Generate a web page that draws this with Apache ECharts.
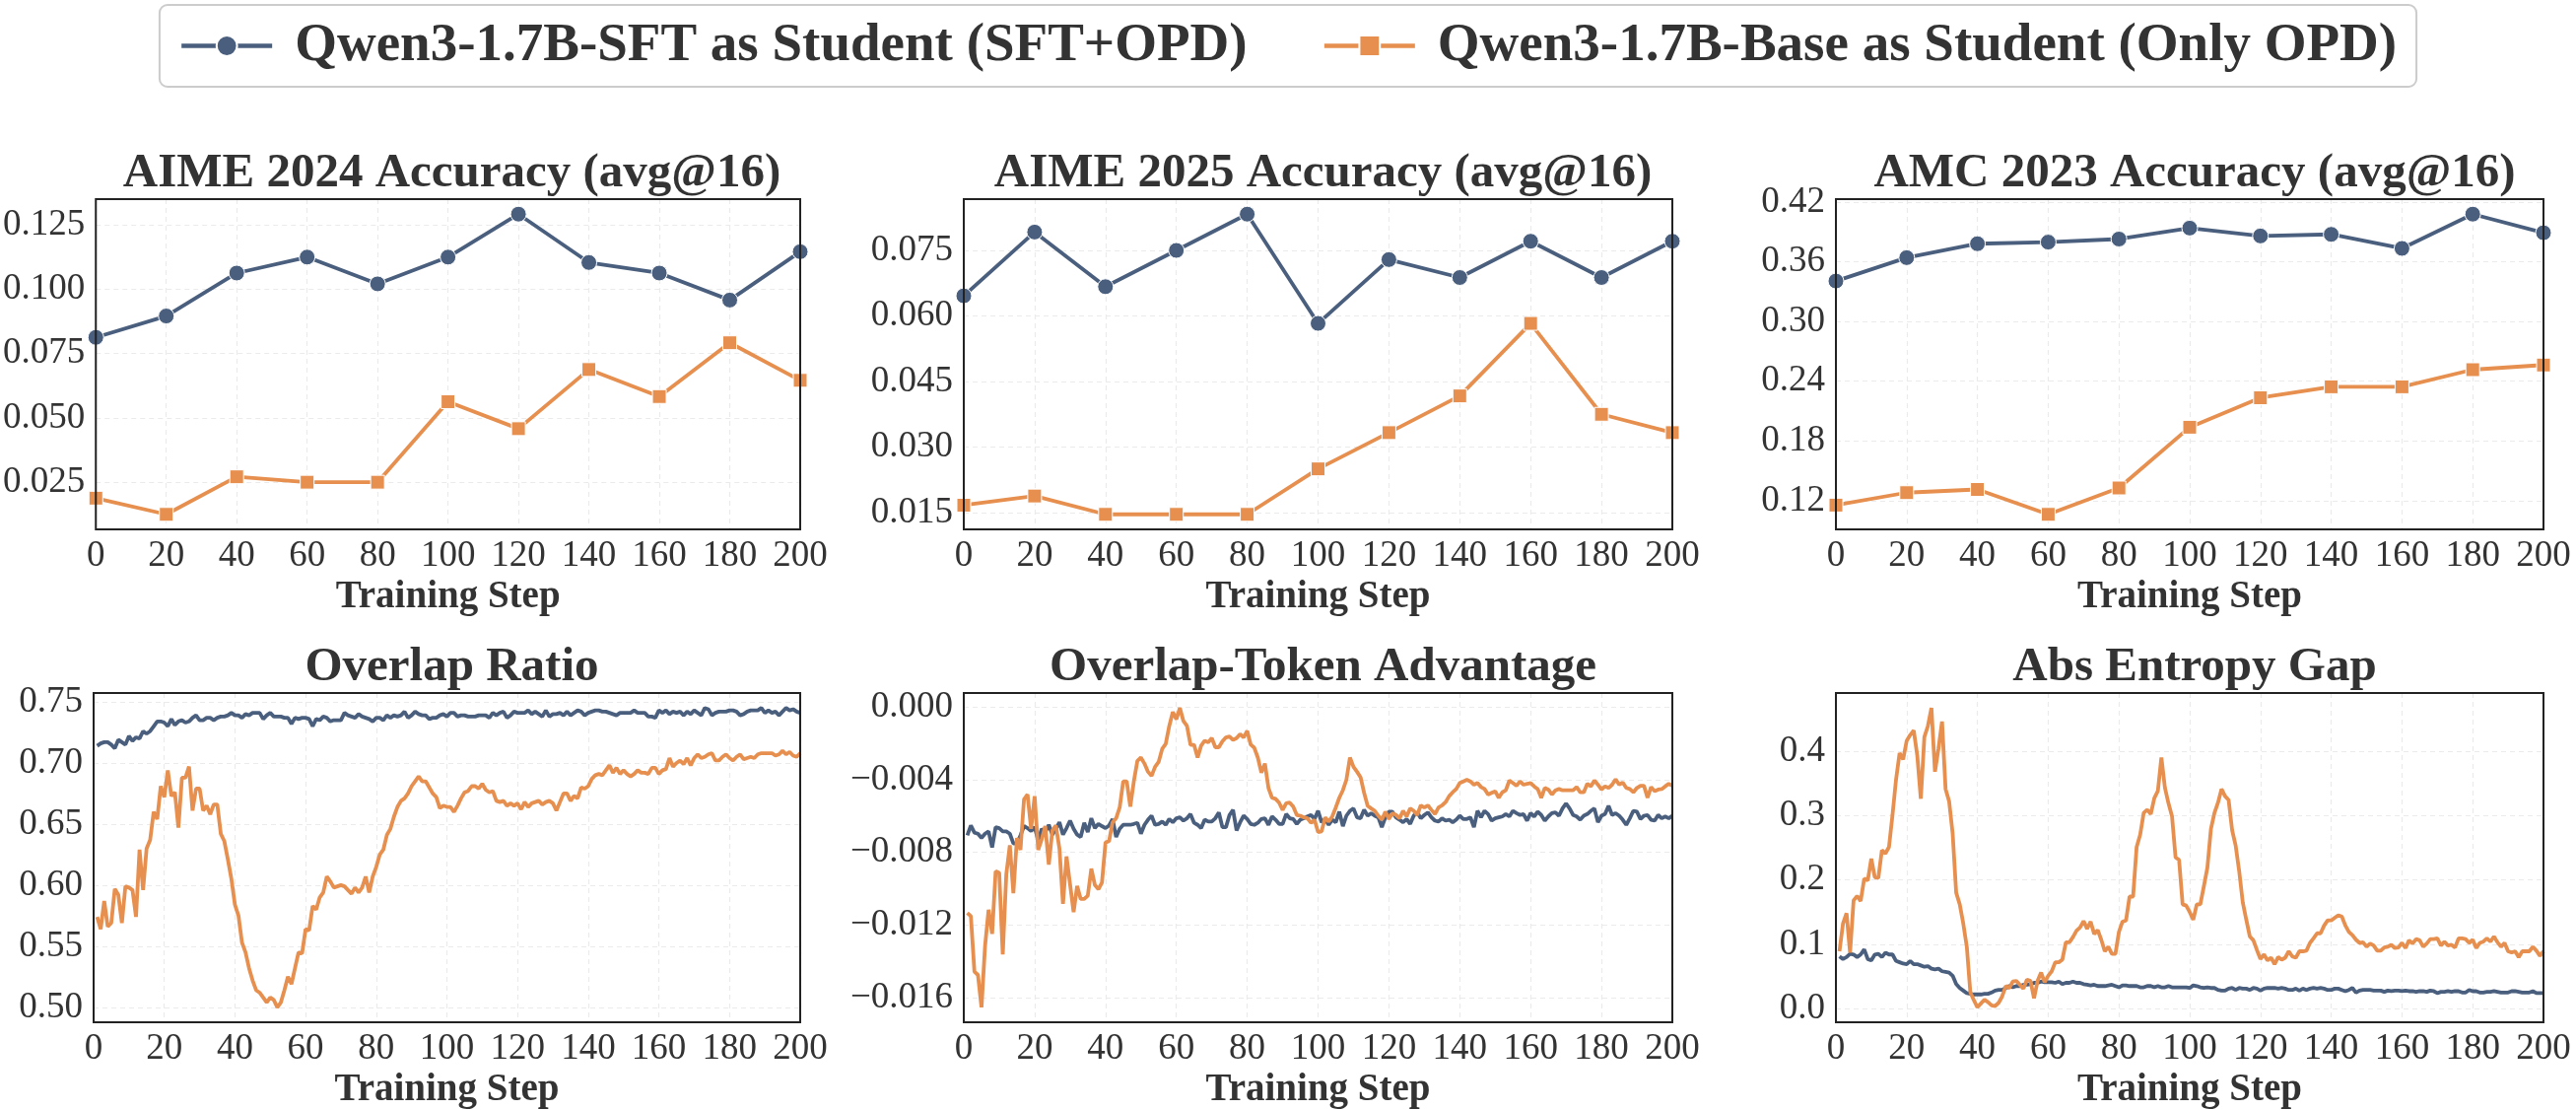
<!DOCTYPE html>
<html>
<head>
    <meta charset="utf-8">
    <title>OPD training curves</title>
    <script src="https://cdn.jsdelivr.net/npm/echarts@6.0.0/dist/echarts.min.js"></script>
    <style>
        html, body { margin: 0; padding: 0; background: #fff; }
        #main { width: 2614px; height: 1126px; }
    </style>
</head>
<body>
<div id="main"></div>
<script type="text/javascript">

    // evaluation steps of the accuracy panels
    var evalSteps = [0, 20, 40, 60, 80, 100, 120, 140, 160, 180, 200];

    var aime24Sft  = [0.0813, 0.0896, 0.1063, 0.1125, 0.1021, 0.1125, 0.1292, 0.1104, 0.1063, 0.0958, 0.1146];
    var aime24Base = [0.0188, 0.0125, 0.0271, 0.0250, 0.0250, 0.0563, 0.0458, 0.0688, 0.0583, 0.0792, 0.0646];
    var aime25Sft  = [0.0646, 0.0792, 0.0667, 0.0750, 0.0833, 0.0583, 0.0729, 0.0688, 0.0771, 0.0688, 0.0771];
    var aime25Base = [0.0167, 0.0188, 0.0146, 0.0146, 0.0146, 0.0250, 0.0333, 0.0417, 0.0583, 0.0375, 0.0333];
    var amcSft     = [0.3406, 0.3641, 0.3781, 0.3797, 0.3828, 0.3938, 0.3859, 0.3875, 0.3734, 0.4078, 0.3891];
    var amcBase    = [0.1156, 0.1281, 0.1313, 0.1063, 0.1328, 0.1938, 0.2234, 0.2344, 0.2344, 0.2516, 0.2563];

    // per-step curves, training steps 1..200
    var overlapSft = [
        0.714,0.716,0.717,0.717,0.715,0.712,0.719,0.717,0.715,0.722,
        0.718,0.721,0.720,0.726,0.724,0.726,0.730,0.734,0.734,0.733,
        0.730,0.736,0.731,0.734,0.735,0.733,0.734,0.737,0.739,0.735,
        0.735,0.737,0.737,0.735,0.737,0.738,0.738,0.739,0.741,0.739,
        0.739,0.737,0.740,0.739,0.741,0.741,0.741,0.736,0.739,0.741,
        0.738,0.738,0.738,0.737,0.737,0.732,0.737,0.736,0.737,0.737,
        0.736,0.730,0.736,0.735,0.738,0.737,0.734,0.735,0.735,0.735,
        0.741,0.739,0.738,0.737,0.740,0.738,0.737,0.736,0.734,0.737,
        0.737,0.735,0.739,0.737,0.739,0.738,0.739,0.742,0.737,0.739,
        0.742,0.740,0.739,0.739,0.736,0.737,0.737,0.739,0.740,0.738,
        0.741,0.741,0.738,0.739,0.739,0.738,0.738,0.738,0.739,0.739,
        0.739,0.737,0.741,0.739,0.741,0.742,0.737,0.739,0.742,0.741,
        0.741,0.741,0.743,0.740,0.742,0.740,0.738,0.743,0.738,0.740,
        0.740,0.741,0.739,0.742,0.739,0.741,0.743,0.742,0.739,0.741,
        0.742,0.743,0.743,0.742,0.742,0.741,0.740,0.739,0.741,0.741,
        0.741,0.741,0.743,0.741,0.741,0.741,0.738,0.738,0.737,0.743,
        0.741,0.743,0.740,0.742,0.741,0.742,0.739,0.742,0.740,0.743,
        0.741,0.739,0.745,0.744,0.739,0.741,0.742,0.742,0.742,0.743,
        0.743,0.742,0.739,0.740,0.742,0.743,0.743,0.743,0.745,0.741,
        0.743,0.741,0.742,0.739,0.742,0.745,0.743,0.744,0.742,0.741
    ];
    var overlapBase = [
        0.574,0.564,0.587,0.566,0.569,0.597,0.592,0.569,0.599,0.598,
        0.596,0.574,0.629,0.596,0.630,0.637,0.660,0.654,0.681,0.672,
        0.694,0.673,0.676,0.647,0.688,0.688,0.697,0.661,0.679,0.679,
        0.661,0.665,0.658,0.666,0.666,0.642,0.636,0.621,0.605,0.584,
        0.575,0.553,0.545,0.532,0.522,0.514,0.512,0.508,0.504,0.508,
        0.506,0.500,0.504,0.514,0.525,0.519,0.532,0.545,0.544,0.564,
        0.563,0.583,0.580,0.590,0.594,0.607,0.603,0.598,0.599,0.600,
        0.599,0.596,0.593,0.598,0.594,0.598,0.607,0.594,0.607,0.615,
        0.625,0.629,0.641,0.646,0.656,0.664,0.669,0.671,0.675,0.681,
        0.685,0.689,0.685,0.685,0.680,0.675,0.672,0.663,0.665,0.664,
        0.664,0.660,0.665,0.671,0.676,0.677,0.681,0.681,0.679,0.683,
        0.678,0.676,0.677,0.669,0.668,0.669,0.665,0.667,0.665,0.667,
        0.662,0.668,0.664,0.667,0.668,0.669,0.666,0.668,0.669,0.667,
        0.661,0.668,0.675,0.675,0.669,0.673,0.671,0.680,0.679,0.681,
        0.687,0.690,0.691,0.690,0.694,0.698,0.692,0.696,0.691,0.694,
        0.691,0.689,0.691,0.694,0.692,0.692,0.691,0.696,0.696,0.691,
        0.694,0.695,0.704,0.697,0.700,0.702,0.699,0.704,0.698,0.704,
        0.707,0.704,0.705,0.707,0.708,0.702,0.702,0.705,0.707,0.704,
        0.702,0.705,0.707,0.703,0.704,0.705,0.704,0.707,0.708,0.708,
        0.708,0.708,0.706,0.707,0.710,0.707,0.709,0.706,0.705,0.708
    ];
    var advSft = [
        -0.00706,-0.00652,-0.00691,-0.00697,-0.00720,-0.00697,-0.00684,-0.00772,-0.00661,-0.00666,
        -0.00684,-0.00684,-0.00697,-0.00751,-0.00751,-0.00706,-0.00655,-0.00666,-0.00682,-0.00661,
        -0.00733,-0.00670,-0.00688,-0.00648,-0.00702,-0.00670,-0.00634,-0.00702,-0.00666,-0.00625,
        -0.00670,-0.00702,-0.00715,-0.00637,-0.00688,-0.00612,-0.00666,-0.00643,-0.00655,-0.00666,
        -0.00652,-0.00616,-0.00715,-0.00670,-0.00648,-0.00648,-0.00648,-0.00643,-0.00637,-0.00697,
        -0.00648,-0.00620,-0.00598,-0.00648,-0.00643,-0.00630,-0.00648,-0.00616,-0.00634,-0.00612,
        -0.00607,-0.00625,-0.00612,-0.00589,-0.00637,-0.00648,-0.00666,-0.00620,-0.00630,-0.00630,
        -0.00612,-0.00580,-0.00661,-0.00661,-0.00594,-0.00566,-0.00679,-0.00634,-0.00598,-0.00616,
        -0.00643,-0.00648,-0.00637,-0.00616,-0.00612,-0.00648,-0.00602,-0.00620,-0.00643,-0.00643,
        -0.00589,-0.00612,-0.00616,-0.00643,-0.00620,-0.00612,-0.00602,-0.00594,-0.00616,-0.00571,
        -0.00634,-0.00616,-0.00648,-0.00620,-0.00634,-0.00576,-0.00655,-0.00598,-0.00571,-0.00558,
        -0.00607,-0.00612,-0.00566,-0.00598,-0.00584,-0.00598,-0.00607,-0.00661,-0.00607,-0.00576,
        -0.00576,-0.00607,-0.00620,-0.00634,-0.00616,-0.00643,-0.00598,-0.00580,-0.00612,-0.00594,
        -0.00580,-0.00607,-0.00625,-0.00630,-0.00612,-0.00625,-0.00620,-0.00634,-0.00620,-0.00598,
        -0.00616,-0.00616,-0.00607,-0.00661,-0.00571,-0.00607,-0.00571,-0.00589,-0.00625,-0.00612,
        -0.00607,-0.00602,-0.00589,-0.00602,-0.00571,-0.00584,-0.00594,-0.00589,-0.00625,-0.00584,
        -0.00602,-0.00576,-0.00594,-0.00625,-0.00602,-0.00584,-0.00580,-0.00598,-0.00558,-0.00530,
        -0.00558,-0.00594,-0.00602,-0.00620,-0.00598,-0.00589,-0.00571,-0.00558,-0.00634,-0.00598,
        -0.00589,-0.00544,-0.00594,-0.00584,-0.00598,-0.00620,-0.00648,-0.00612,-0.00571,-0.00576,
        -0.00616,-0.00598,-0.00594,-0.00620,-0.00625,-0.00594,-0.00612,-0.00602,-0.00612,-0.00598
    ];
    var advBase = [
        -0.01133,-0.01151,-0.01456,-0.01474,-0.01652,-0.01316,-0.01115,-0.01248,-0.00903,-0.00912,
        -0.01361,-0.00921,-0.00760,-0.01025,-0.00720,-0.00786,-0.00508,-0.00481,-0.00670,-0.00490,
        -0.00786,-0.00727,-0.00655,-0.00867,-0.00679,-0.00652,-0.00778,-0.01083,-0.00822,-0.00975,
        -0.01128,-0.00984,-0.01056,-0.01056,-0.01038,-0.00889,-0.00979,-0.01002,-0.00966,-0.00745,
        -0.00738,-0.00634,-0.00612,-0.00553,-0.00409,-0.00409,-0.00548,-0.00409,-0.00296,-0.00278,
        -0.00311,-0.00356,-0.00379,-0.00329,-0.00302,-0.00230,-0.00203,-0.00104,-0.00027,-0.00068,
        -0.00005,-0.00077,-0.00104,-0.00208,-0.00208,-0.00278,-0.00212,-0.00185,-0.00194,-0.00171,
        -0.00221,-0.00221,-0.00189,-0.00167,-0.00162,-0.00181,-0.00171,-0.00149,-0.00167,-0.00131,
        -0.00207,-0.00224,-0.00278,-0.00361,-0.00311,-0.00445,-0.00499,-0.00505,-0.00526,-0.00566,
        -0.00530,-0.00526,-0.00548,-0.00594,-0.00598,-0.00607,-0.00612,-0.00637,-0.00620,-0.00688,
        -0.00684,-0.00607,-0.00630,-0.00602,-0.00553,-0.00499,-0.00458,-0.00400,-0.00278,-0.00329,
        -0.00356,-0.00386,-0.00472,-0.00544,-0.00558,-0.00571,-0.00598,-0.00620,-0.00576,-0.00616,
        -0.00584,-0.00594,-0.00612,-0.00571,-0.00602,-0.00558,-0.00571,-0.00594,-0.00541,-0.00553,
        -0.00541,-0.00566,-0.00589,-0.00553,-0.00541,-0.00523,-0.00490,-0.00469,-0.00451,-0.00418,
        -0.00409,-0.00400,-0.00409,-0.00427,-0.00418,-0.00440,-0.00451,-0.00481,-0.00472,-0.00463,
        -0.00499,-0.00469,-0.00458,-0.00404,-0.00418,-0.00433,-0.00409,-0.00427,-0.00422,-0.00418,
        -0.00436,-0.00451,-0.00499,-0.00445,-0.00454,-0.00481,-0.00458,-0.00451,-0.00458,-0.00458,
        -0.00458,-0.00458,-0.00440,-0.00469,-0.00469,-0.00422,-0.00436,-0.00404,-0.00427,-0.00454,
        -0.00436,-0.00445,-0.00427,-0.00397,-0.00427,-0.00415,-0.00445,-0.00451,-0.00469,-0.00445,
        -0.00433,-0.00433,-0.00499,-0.00440,-0.00463,-0.00454,-0.00451,-0.00436,-0.00422,-0.00433
    ];
    var gapSft = [
        0.081,0.077,0.080,0.085,0.084,0.080,0.084,0.092,0.077,0.075,
        0.084,0.085,0.080,0.087,0.084,0.084,0.074,0.072,0.070,0.069,
        0.074,0.069,0.069,0.067,0.065,0.066,0.062,0.061,0.062,0.058,
        0.057,0.056,0.051,0.038,0.032,0.028,0.024,0.023,0.022,0.022,
        0.022,0.023,0.023,0.025,0.028,0.029,0.029,0.032,0.035,0.033,
        0.035,0.035,0.037,0.037,0.038,0.040,0.040,0.042,0.041,0.041,
        0.041,0.040,0.042,0.038,0.040,0.040,0.042,0.040,0.040,0.038,
        0.037,0.036,0.037,0.035,0.035,0.035,0.036,0.037,0.035,0.033,
        0.036,0.036,0.035,0.035,0.035,0.033,0.033,0.035,0.035,0.033,
        0.035,0.033,0.033,0.035,0.033,0.033,0.033,0.033,0.033,0.032,
        0.036,0.035,0.033,0.032,0.033,0.032,0.032,0.029,0.028,0.028,
        0.031,0.032,0.029,0.032,0.031,0.031,0.029,0.032,0.031,0.028,
        0.031,0.032,0.032,0.032,0.031,0.032,0.031,0.029,0.029,0.031,
        0.028,0.031,0.029,0.031,0.032,0.031,0.032,0.031,0.029,0.029,
        0.031,0.031,0.029,0.027,0.029,0.032,0.025,0.028,0.029,0.029,
        0.029,0.028,0.028,0.028,0.026,0.028,0.027,0.028,0.028,0.027,
        0.028,0.027,0.027,0.026,0.027,0.027,0.026,0.028,0.027,0.024,
        0.026,0.026,0.027,0.026,0.027,0.027,0.025,0.025,0.029,0.027,
        0.027,0.025,0.025,0.026,0.026,0.027,0.026,0.025,0.025,0.025,
        0.027,0.027,0.026,0.025,0.025,0.025,0.027,0.024,0.024,0.024
    ];
    var gapBase = [
        0.089,0.132,0.148,0.087,0.168,0.175,0.167,0.202,0.199,0.233,
        0.204,0.203,0.246,0.241,0.251,0.301,0.356,0.397,0.387,0.416,
        0.425,0.432,0.393,0.326,0.422,0.439,0.467,0.368,0.404,0.446,
        0.341,0.322,0.272,0.180,0.162,0.132,0.096,0.025,0.013,0.002,
        0.008,0.014,0.010,0.005,0.004,0.009,0.019,0.035,0.032,0.042,
        0.043,0.037,0.031,0.045,0.043,0.016,0.043,0.056,0.041,0.051,
        0.058,0.072,0.072,0.076,0.103,0.103,0.111,0.121,0.126,0.136,
        0.124,0.135,0.116,0.122,0.107,0.089,0.096,0.085,0.085,0.119,
        0.135,0.137,0.174,0.174,0.251,0.270,0.304,0.309,0.302,0.327,
        0.338,0.390,0.343,0.319,0.299,0.235,0.231,0.162,0.160,0.150,
        0.138,0.162,0.162,0.190,0.219,0.279,0.304,0.320,0.341,0.330,
        0.324,0.277,0.253,0.213,0.165,0.138,0.112,0.106,0.091,0.077,
        0.084,0.075,0.079,0.069,0.080,0.076,0.079,0.089,0.081,0.079,
        0.089,0.089,0.090,0.102,0.109,0.117,0.117,0.129,0.137,0.137,
        0.141,0.145,0.143,0.129,0.119,0.114,0.107,0.102,0.103,0.096,
        0.101,0.098,0.090,0.090,0.095,0.096,0.099,0.094,0.095,0.102,
        0.094,0.106,0.101,0.108,0.106,0.096,0.101,0.108,0.108,0.109,
        0.098,0.104,0.098,0.099,0.095,0.109,0.109,0.108,0.102,0.107,
        0.094,0.102,0.104,0.109,0.104,0.112,0.103,0.096,0.102,0.089,
        0.087,0.089,0.080,0.089,0.089,0.089,0.096,0.090,0.082,0.089
    ];

    // y tick labels of each panel
    var aime24Ticks  = [0.025, 0.050, 0.075, 0.100, 0.125];
    var aime25Ticks  = [0.015, 0.030, 0.045, 0.060, 0.075];
    var amcTicks     = [0.12, 0.18, 0.24, 0.30, 0.36, 0.42];
    var overlapTicks = [0.50, 0.55, 0.60, 0.65, 0.70, 0.75];
    var advTicks     = [-0.016, -0.012, -0.008, -0.004, 0.000];
    var gapTicks     = [0.0, 0.1, 0.2, 0.3, 0.4];

    var sftName = 'Qwen3-1.7B-SFT as Student (SFT+OPD)';
    var baseName = 'Qwen3-1.7B-Base as Student (Only OPD)';

    var FONT = 'Liberation Serif';
    var TEXT = '#333333';
    var SFT_COLOR = '#4a5f7e';
    var BASE_COLOR = '#e68f4e';

    var colLeft = [95, 978, 1863];
    var colWidth = [717, 719, 718];
    var rowTop = [202, 703];
    var rowHeight = 335;

    var panels = [
        {title: 'AIME 2024 Accuracy (avg@16)', sft: aime24Sft, base: aime24Base, ticks: aime24Ticks, digits: 3, dense: false},
        {title: 'AIME 2025 Accuracy (avg@16)', sft: aime25Sft, base: aime25Base, ticks: aime25Ticks, digits: 3, dense: false},
        {title: 'AMC 2023 Accuracy (avg@16)', sft: amcSft, base: amcBase, ticks: amcTicks, digits: 2, dense: false},
        {title: 'Overlap Ratio', sft: overlapSft, base: overlapBase, ticks: overlapTicks, digits: 2, dense: true},
        {title: 'Overlap-Token Advantage', sft: advSft, base: advBase, ticks: advTicks, digits: 3, dense: true},
        {title: 'Abs Entropy Gap', sft: gapSft, base: gapBase, ticks: gapTicks, digits: 1, dense: true}
    ];

    // matplotlib-style 5% margins
    function padded(a, b) {
        var lo = Math.min(Math.min.apply(null, a), Math.min.apply(null, b));
        var hi = Math.max(Math.max.apply(null, a), Math.max.apply(null, b));
        var m = (hi - lo) * 0.05;
        return [lo - m, hi + m];
    }

    function pairs(p, arr) {
        return arr.map(function (v, i) {
            return p.dense ? [i + 1, v] : [evalSteps[i], v];
        });
    }

    function fmt(digits) {
        return function (v) {
            var s = Math.abs(v).toFixed(digits);
            return (v < -1e-12 ? '\u2212' : '') + s;
        };
    }

    var gridLine = {show: true, lineStyle: {color: '#ebebeb', type: [5, 4], width: 1.2}};

    var option = {
        animation: false,
        backgroundColor: '#ffffff',
        textStyle: {fontFamily: FONT, color: TEXT},
        legend: {
            data: [sftName, baseName],
            top: 5,
            left: 'center',
            itemWidth: 92,
            itemHeight: 26,
            itemGap: 76,
            padding: [14, 20],
            borderColor: '#cccccc',
            borderWidth: 2,
            borderRadius: 8,
            lineStyle: {width: 4.5},
            textStyle: {fontFamily: FONT, fontSize: 55, fontWeight: 'bold', color: TEXT, padding: [0, 0, 0, 18]}
        },
        title: [], grid: [], xAxis: [], yAxis: [], series: []
    };

    panels.forEach(function (p, k) {
        var row = Math.floor(k / 3), col = k % 3;
        var ext = padded(p.sft, p.base);
        option.title.push({
            text: p.title,
            left: colLeft[col] + colWidth[col] / 2,
            top: rowTop[row] - 55,
            textAlign: 'center',
            textStyle: {fontFamily: FONT, fontSize: 49, fontWeight: 'bold', color: TEXT}
        });
        option.grid.push({
            left: colLeft[col], top: rowTop[row], width: colWidth[col], height: rowHeight,
            show: true, z: 10, borderColor: '#222222', borderWidth: 2, backgroundColor: 'transparent'
        });
        option.xAxis.push({
            type: 'value', gridIndex: k, min: 0, max: 200, interval: 20,
            name: 'Training Step', nameLocation: 'middle', nameGap: 49,
            nameTextStyle: {fontFamily: FONT, fontSize: 39, fontWeight: 'bold', color: TEXT},
            axisLine: {show: false}, axisTick: {show: false},
            axisLabel: {fontFamily: FONT, fontSize: 37, color: TEXT, margin: 9},
            splitLine: gridLine
        });
        option.yAxis.push({
            type: 'value', gridIndex: k, min: ext[0], max: ext[1],
            axisLine: {show: false},
            axisTick: {show: false, customValues: p.ticks},
            axisLabel: {fontFamily: FONT, fontSize: 37, color: TEXT, margin: 11,
                customValues: p.ticks, formatter: fmt(p.digits)},
            splitLine: gridLine
        });
        [[sftName, p.sft, SFT_COLOR, 'circle', 16], [baseName, p.base, BASE_COLOR, 'rect', 14]].forEach(function (s) {
            option.series.push({
                name: s[0], type: 'line', xAxisIndex: k, yAxisIndex: k,
                data: pairs(p, s[1]),
                showSymbol: !p.dense,
                symbol: s[3], symbolSize: s[4],
                lineStyle: {color: s[2], width: p.dense ? 3.8 : 3.8},
                itemStyle: {color: s[2], borderColor: '#ffffff', borderWidth: 1},
                emphasis: {disabled: true}
            });
        });
    });

    var myChart = echarts.init(document.getElementById('main'), null, {renderer: 'canvas'});
    myChart.setOption(option);

</script>
</body>
</html>
